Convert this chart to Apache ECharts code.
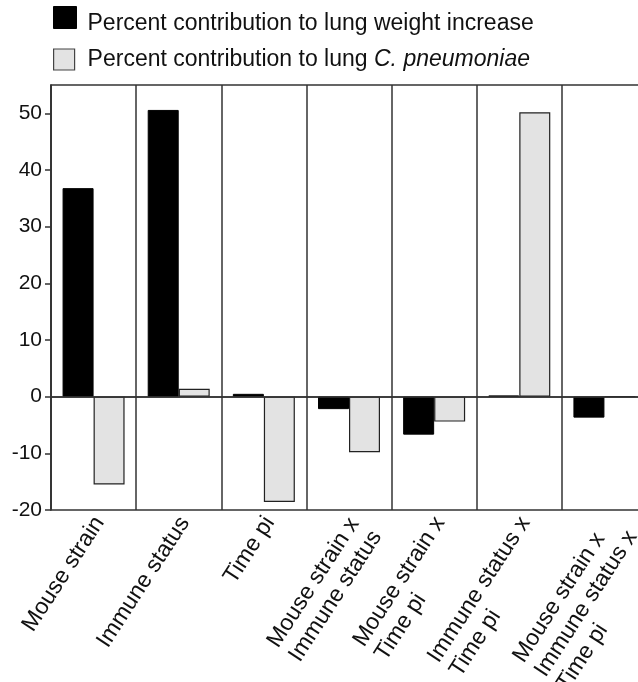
<!DOCTYPE html>
<html>
<head>
<meta charset="utf-8">
<script src="https://cdn.jsdelivr.net/npm/echarts@6/dist/echarts.min.js"></script>
<style>
html,body{margin:0;padding:0;background:#fff;}
#chart{width:638px;height:682px;}
</style>
</head>
<body>
<div id="chart"></div>
<script>
var categories = [
  'Mouse strain',
  'Immune status',
  'Time pi',
  'Mouse strain x\nImmune status',
  'Mouse strain x\nTime pi',
  'Immune status x\nTime pi',
  'Mouse strain x\nImmune status x\nTime pi'
];
var weightValues = [36.8, 50.6, 0.5, -2.2, -6.7, 0.2, -3.7];
var pneumoniaeValues = [-15.5, 1.4, -18.6, -9.8, -4.4, 50.2, 0];
var yTicks = [-20, -10, 0, 10, 20, 30, 40, 50];
var seriesNames = ['Percent contribution to lung weight increase', 'Percent contribution to lung C. pneumoniae'];

var chart = echarts.init(document.getElementById('chart'), null, {renderer: 'canvas'});
var font = 'Liberation Sans, Arial, sans-serif';
var legendText = {
  fontSize: 23,
  color: '#111',
  fontFamily: font,
  rich: {
    n: {fontSize: 23, color: '#111', fontFamily: font},
    i: {fontSize: 23, color: '#111', fontFamily: font, fontStyle: 'italic'}
  }
};
function legendFormatter(name) {
  if (name === seriesNames[1]) {
    return '{n|Percent contribution to lung }{i|C. pneumoniae}';
  }
  return '{n|' + name + '}';
}
chart.setOption({
  animation: false,
  backgroundColor: '#fff',
  textStyle: {fontFamily: font},
  legend: [
    {
      left: 53,
      top: 6,
      padding: 0,
      icon: 'rect',
      itemWidth: 23,
      itemHeight: 22,
      data: [seriesNames[0]],
      itemStyle: {borderColor: '#000', borderWidth: 1},
      formatter: legendFormatter,
      textStyle: Object.assign({}, legendText, {padding: [12, 0, 0, 6]})
    },
    {
      left: 53,
      top: 48,
      padding: 0,
      icon: 'rect',
      itemWidth: 21,
      itemHeight: 21,
      data: [seriesNames[1]],
      itemStyle: {borderColor: '#444', borderWidth: 1.2},
      formatter: legendFormatter,
      textStyle: Object.assign({}, legendText, {padding: [0, 0, 0, 8]})
    }
  ],
  grid: {
    left: 51,
    top: 85,
    right: -9,
    bottom: 172,
    show: true,
    borderColor: '#333',
    borderWidth: 1.5,
    containLabel: false,
    outerBoundsMode: 'none'
  },
  xAxis: {
    type: 'category',
    data: categories,
    boundaryGap: true,
    axisLine: {show: true, lineStyle: {color: '#333', width: 1.5}},
    axisTick: {show: false},
    splitLine: {show: true, interval: 0, lineStyle: {color: '#333', width: 1.5}},
    axisLabel: {
      interval: 0,
      rotate: 57,
      margin: 5,
      fontSize: 23,
      color: '#111',
      fontFamily: font,
      lineHeight: 26,
      align: 'right',
      verticalAlign: 'top',
      padding: [-6, 0, 0, 0],
      hideOverlap: false,
      formatter: function (value) {
        return value.split('\n').map(function (l) { return '{a|' + l + '}'; }).join('\n');
      },
      rich: {
        a: {align: 'left', fontSize: 23, lineHeight: 26, color: '#111', fontFamily: font}
      }
    }
  },
  yAxis: {
    type: 'value',
    min: -20,
    max: 55,
    interval: 10,
    axisLine: {show: true, lineStyle: {color: '#333', width: 1.5}},
    axisTick: {show: true, length: 6, customValues: yTicks, lineStyle: {color: '#333', width: 1.5}},
    splitLine: {show: false},
    axisLabel: {
      customValues: yTicks,
      fontSize: 21,
      color: '#111',
      fontFamily: font,
      margin: 9
    }
  },
  series: [
    {
      name: seriesNames[0],
      type: 'bar',
      data: weightValues,
      barWidth: 31,
      barGap: '0%',
      itemStyle: {color: '#000', borderColor: '#000', borderWidth: 1},
      markLine: {
        silent: true,
        symbol: ['none', 'none'],
        label: {show: false},
        lineStyle: {color: '#333', width: 1.5, type: 'solid'},
        data: [{yAxis: 0}]
      }
    },
    {
      name: seriesNames[1],
      type: 'bar',
      data: pneumoniaeValues,
      barWidth: 31,
      barGap: '0%',
      itemStyle: {color: '#e3e3e3', borderColor: '#222', borderWidth: 1.2}
    }
  ]
});
</script>
</body>
</html>
